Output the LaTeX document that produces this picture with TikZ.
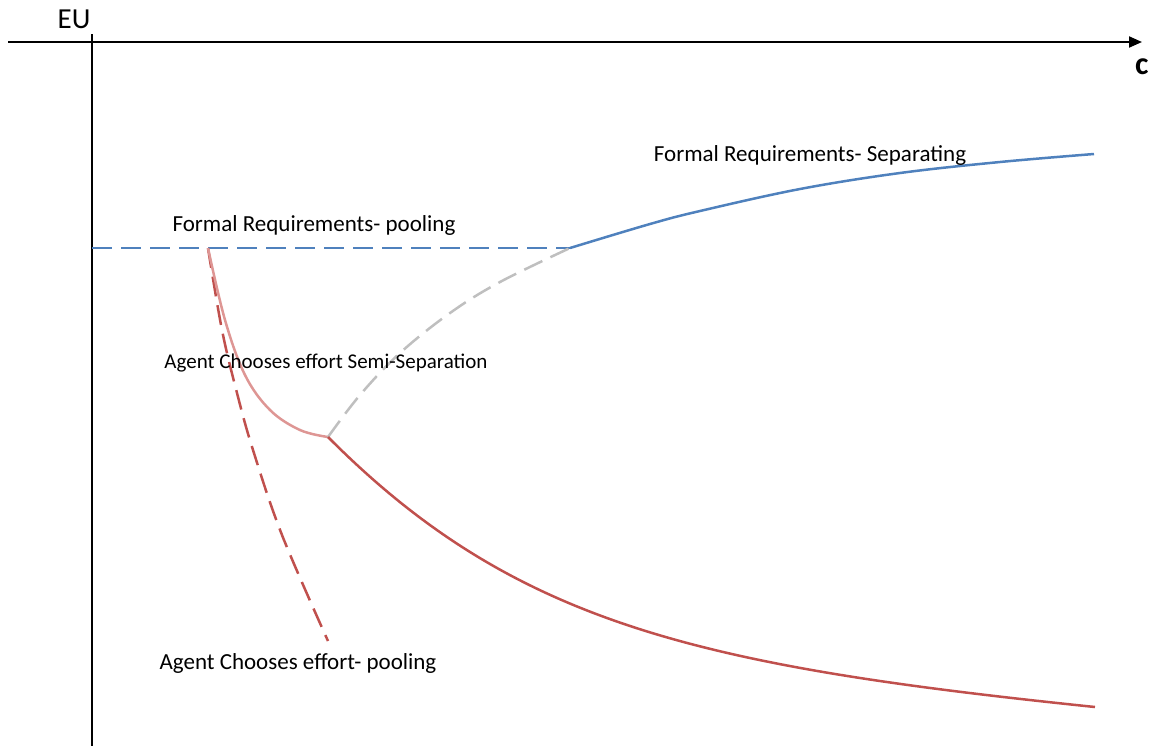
\documentclass[tikz,border=0pt]{standalone}
\usepackage{fontspec}
\setmainfont{Carlito}
\usepackage{tikz}
\usetikzlibrary{arrows.meta}
\definecolor{frblue}{RGB}{79, 129, 189}
\definecolor{acred}{RGB}{192, 80, 77}
\definecolor{semired}{RGB}{222, 150, 148}
\definecolor{dashgray}{RGB}{191, 191, 191}
\tikzset{
  axisline/.style={line width=2pt, black},
  curveline/.style={line width=2.5pt},
  dashline/.style={line width=2.5pt, dash pattern=on 20pt off 9pt},
  curvelabel/.style={font=\fontsize{23}{27}\selectfont, inner sep=0pt}
}

\begin{document}
\begin{tikzpicture}[x=1pt, y=-1pt]
  \useasboundingbox (0, 0) rectangle (1150, 748);
  % axes
  \coordinate (xstart) at (8, 42);
  \coordinate (xend) at (1142, 42);
  \coordinate (ystart) at (92, 34);
  \coordinate (yend) at (92, 746);
  \draw[axisline, -{Triangle[length=13pt, width=11pt]}] (xstart) -- (xend);
  \draw[axisline] (ystart) -- (yend);
  \node[font=\fontsize{29}{33}\selectfont, inner sep=0pt] (eulabel) at (74, 19) {EU};
  \node[font=\fontsize{32}{36}\selectfont\bfseries, inner sep=0pt, anchor=west] (clabel) at (1135, 67) {c};
  % key points
  \coordinate (poolstart) at (92, 248);
  \coordinate (effortstart) at (208, 248);
  \coordinate (kink) at (328, 437);
  \coordinate (meet) at (570, 248);
  \coordinate (sepend) at (1094, 154);
  \coordinate (poolend) at (328, 641);
  \coordinate (redend) at (1095, 707);
  % formal requirements
  \draw[dashline, frblue] (poolstart) -- (meet);
  \draw[curveline, frblue] plot[smooth, tension=0.6] coordinates
    {(meet) (650, 224) (700, 211) (800, 189) (900, 173) (1000, 162) (sepend)};
  % agent chooses effort
  \draw[dashline, acred] plot[smooth, tension=0.6] coordinates
    {(effortstart) (222, 330) (237, 393) (253, 450) (282, 535) (poolend)};
  \draw[curveline, semired] plot[smooth, tension=0.6] coordinates
    {(effortstart) (225, 320) (245, 375) (270, 410) (300, 430) (kink)};
  \draw[dashline, dashgray] plot[smooth, tension=0.6] coordinates
    {(kink) (360, 395) (400, 353) (450, 313) (500, 282) (meet)};
  \draw[curveline, acred] (kink) .. controls (515, 625) and (700, 666) .. (redend);
  % labels
  \node[curvelabel] (seplabel) at (810, 155) {Formal Requirements- Separating};
  \node[curvelabel] (poollabel) at (314, 225) {Formal Requirements- pooling};
  \node[curvelabel, font=\fontsize{21}{25}\selectfont] (semilabel) at (326, 363) {Agent Chooses effort Semi-Separation};
  \node[curvelabel] (effortlabel) at (298, 663) {Agent Chooses effort- pooling};
\end{tikzpicture}
\end{document}
